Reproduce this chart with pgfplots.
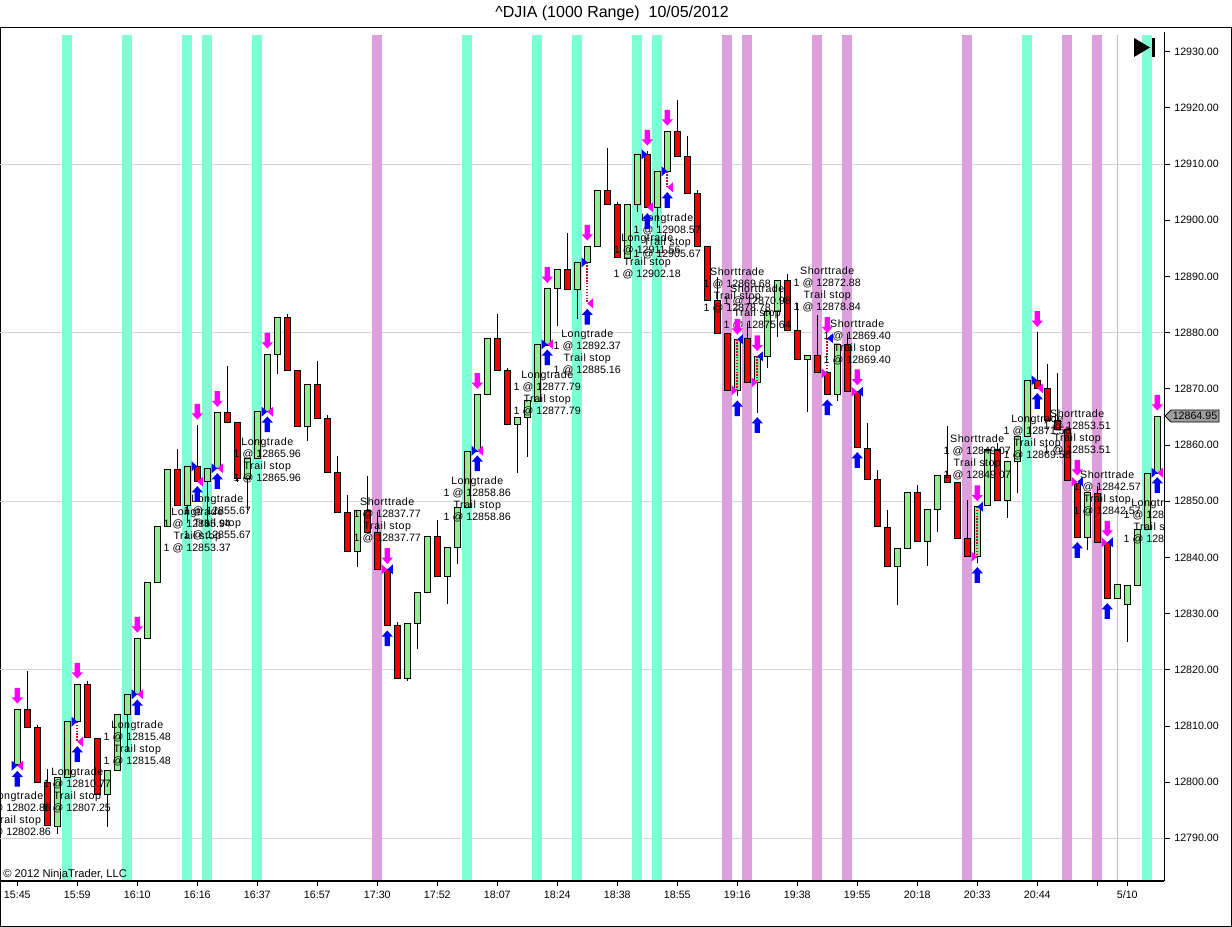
\documentclass[border=0pt]{standalone}
\usepackage{fontspec}
\setmainfont{Liberation Sans}
\newfontfamily\wordfont[LetterSpace=4.5]{Liberation Sans}
\usepackage{pgfplots}
\usepackage{pgfplotstable}
\pgfplotsset{compat=1.18}
\definecolor{upc}{HTML}{90EE90}
\definecolor{dnc}{HTML}{F00000}
\definecolor{aqua}{HTML}{7FFFD4}
\definecolor{plumc}{HTML}{DDA0DD}
\definecolor{magc}{HTML}{FF00FF}
\definecolor{bluec}{HTML}{0000FF}
\definecolor{dotc}{HTML}{C01030}
\pgfdeclareplotmark{arrUp}{\pgfpathmoveto{\pgfpoint{0pt}{5.9pt}}\pgfpathlineto{\pgfpoint{4.2pt}{1.3pt}}\pgfpathlineto{\pgfpoint{2pt}{1.3pt}}\pgfpathlineto{\pgfpoint{2pt}{-5.9pt}}\pgfpathlineto{\pgfpoint{-2pt}{-5.9pt}}\pgfpathlineto{\pgfpoint{-2pt}{1.3pt}}\pgfpathlineto{\pgfpoint{-4.2pt}{1.3pt}}\pgfpathclose\pgfusepathqfill}
\pgfdeclareplotmark{arrDn}{\pgfpathmoveto{\pgfpoint{0pt}{-5.9pt}}\pgfpathlineto{\pgfpoint{4.2pt}{-1.3pt}}\pgfpathlineto{\pgfpoint{2pt}{-1.3pt}}\pgfpathlineto{\pgfpoint{2pt}{5.9pt}}\pgfpathlineto{\pgfpoint{-2pt}{5.9pt}}\pgfpathlineto{\pgfpoint{-2pt}{-1.3pt}}\pgfpathlineto{\pgfpoint{-4.2pt}{-1.3pt}}\pgfpathclose\pgfusepathqfill}
\pgfdeclareplotmark{triR}{\pgfpathmoveto{\pgfpoint{0pt}{0pt}}\pgfpathlineto{\pgfpoint{-4.2pt}{3.7pt}}\pgfpathlineto{\pgfpoint{-4.2pt}{-3.7pt}}\pgfpathclose\pgfusepathqfill}
\pgfdeclareplotmark{triL}{\pgfpathmoveto{\pgfpoint{0pt}{0pt}}\pgfpathlineto{\pgfpoint{4.2pt}{3.7pt}}\pgfpathlineto{\pgfpoint{4.2pt}{-3.7pt}}\pgfpathclose\pgfusepathqfill}
\pgfplotstableread{
x top bot hi lo up
0 12812.96 12803.05 12812.96 12803.05 1
1 12812.96 12809.75 12819.83 12809.75 0
2 12809.75 12799.97 12810.16 12799.97 0
3 12799.97 12792.24 12802.33 12792.24 0
4 12800.86 12792.06 12800.86 12790.77 1
5 12810.82 12800.86 12810.82 12800.86 1
6 12817.41 12810.82 12817.41 12810.82 1
7 12817.41 12807.97 12818.00 12807.97 0
8 12807.73 12797.83 12807.73 12797.83 0
9 12802.03 12797.83 12802.03 12792.06 1
10 12812.07 12802.03 12812.07 12802.03 1
11 12815.63 12812.07 12815.63 12805.41 1
12 12825.59 12815.63 12825.59 12815.63 1
13 12835.56 12825.59 12835.56 12825.59 1
14 12845.46 12835.56 12845.46 12835.56 1
15 12855.67 12845.46 12855.67 12845.46 1
16 12855.67 12849.26 12859.28 12849.26 0
17 12856.20 12849.26 12856.20 12846.17 1
18 12856.20 12853.46 12863.55 12853.46 0
19 12855.85 12853.46 12855.85 12845.46 1
20 12865.81 12855.85 12865.81 12855.85 1
21 12865.81 12864.04 12874.05 12864.04 0
22 12864.04 12854.07 12864.04 12853.46 0
23 12857.63 12854.07 12857.63 12848.43 1
24 12865.99 12857.63 12865.99 12857.63 1
25 12876.14 12865.99 12876.14 12865.99 1
26 12882.72 12876.14 12882.72 12872.63 1
27 12882.72 12873.29 12883.26 12873.29 0
28 12873.29 12863.32 12873.29 12863.32 0
29 12870.80 12863.32 12870.80 12860.76 1
30 12870.80 12864.75 12874.95 12864.75 0
31 12864.75 12855.14 12865.28 12855.14 0
32 12855.14 12848.02 12858.04 12848.02 0
33 12848.02 12841.08 12851.04 12841.08 0
34 12848.37 12841.08 12848.37 12838.34 1
35 12848.37 12844.46 12854.48 12844.46 0
36 12844.46 12837.87 12848.13 12837.87 0
37 12837.87 12827.91 12837.87 12827.91 0
38 12827.91 12818.48 12828.55 12818.48 0
39 12828.26 12818.48 12828.26 12818.05 1
40 12833.78 12828.26 12833.78 12823.69 1
41 12843.75 12833.78 12843.75 12833.78 1
42 12843.75 12836.63 12846.65 12836.63 0
43 12841.79 12836.63 12841.79 12831.70 1
44 12848.91 12841.79 12848.91 12838.82 1
45 12858.87 12848.91 12858.87 12848.91 1
46 12869.02 12858.87 12869.02 12858.87 1
47 12878.99 12869.02 12878.99 12869.02 1
48 12878.99 12873.29 12883.31 12873.29 0
49 12873.29 12863.68 12873.65 12863.68 0
50 12864.93 12863.68 12864.93 12854.96 1
51 12867.88 12864.93 12867.88 12857.81 1
52 12877.92 12867.70 12877.92 12867.70 1
53 12887.88 12877.79 12887.88 12877.79 1
54 12891.27 12887.88 12891.27 12881.23 1
55 12891.27 12887.71 12897.67 12887.71 0
56 12892.51 12887.71 12892.51 12882.42 1
57 12895.36 12892.51 12895.36 12892.51 1
58 12905.32 12895.36 12905.32 12895.36 1
59 12905.32 12902.83 12912.80 12902.83 0
60 12902.83 12893.40 12903.30 12893.40 0
61 12902.83 12893.22 12902.83 12893.22 1
62 12911.73 12902.83 12911.73 12901.52 1
63 12911.73 12902.30 12912.32 12902.30 0
64 12908.71 12902.30 12908.71 12898.61 1
65 12915.82 12908.71 12915.82 12908.71 1
66 12915.82 12911.38 12921.39 12911.38 0
67 12911.38 12904.79 12914.99 12904.79 0
68 12904.79 12895.36 12905.32 12895.36 0
69 12895.36 12885.75 12895.36 12885.75 0
70 12885.75 12879.87 12889.90 12879.87 0
71 12879.87 12869.73 12879.87 12869.73 0
72 12878.81 12869.73 12878.81 12868.72 1
73 12878.99 12871.15 12881.65 12871.15 0
74 12875.78 12871.15 12875.78 12865.74 1
75 12883.79 12875.78 12883.79 12873.65 1
76 12889.31 12883.79 12889.31 12879.27 1
77 12889.31 12880.41 12890.43 12880.41 0
78 12880.41 12875.25 12885.27 12875.25 0
79 12875.96 12875.25 12875.96 12865.92 1
80 12875.96 12872.93 12883.13 12872.93 0
81 12872.93 12869.02 12872.93 12869.02 0
82 12877.92 12869.02 12877.92 12867.88 1
83 12877.92 12869.55 12879.75 12869.55 0
84 12869.55 12859.52 12869.55 12859.52 0
85 12859.41 12853.89 12863.86 12853.89 0
86 12853.89 12845.53 12855.55 12845.53 0
87 12845.35 12838.41 12848.43 12838.41 0
88 12841.61 12838.41 12841.61 12831.57 1
89 12851.58 12841.61 12851.58 12841.61 1
90 12851.58 12842.86 12852.88 12842.86 0
91 12848.55 12842.86 12848.55 12838.51 1
92 12854.60 12848.55 12854.60 12844.57 1
93 12854.60 12853.36 12863.38 12853.36 0
94 12853.36 12843.39 12853.36 12843.39 0
95 12843.39 12840.12 12850.21 12840.12 0
96 12849.01 12840.12 12849.01 12839.05 1
97 12859.10 12849.19 12859.10 12849.19 1
98 12859.10 12850.15 12860.30 12850.15 0
99 12857.09 12850.15 12857.09 12847.06 1
100 12861.54 12857.09 12861.54 12851.40 1
101 12871.51 12861.54 12871.51 12861.54 1
102 12871.51 12870.09 12880.16 12870.09 0
103 12870.09 12864.39 12874.41 12864.39 0
104 12864.39 12862.72 12872.76 12862.72 0
105 12862.72 12853.71 12862.72 12853.71 0
106 12853.18 12843.57 12853.18 12843.57 0
107 12851.58 12843.57 12851.58 12841.31 1
108 12851.40 12842.68 12852.75 12842.68 0
109 12842.68 12832.71 12842.68 12832.71 0
110 12835.20 12832.71 12835.20 12832.71 1
111 12835.03 12831.65 12835.03 12824.99 1
112 12844.99 12835.03 12844.99 12835.03 1
113 12854.96 12844.99 12854.96 12844.99 1
114 12865.10 12854.96 12865.10 12854.96 1
}\candles
\newcommand{\lab}[6]{\node[align=center,font=\fontsize{8}{9}\selectfont,inner sep=0pt] at (axis cs:#1,#2) {{\wordfont #3}\\#4\\{\wordfont #5}\\#6};}
\begin{document}
\begin{tikzpicture}[x=0.75pt,y=-0.75pt]
\useasboundingbox (0,0) rectangle (1232,927);
\draw[black,line width=0.9pt] (0.6,27.6) rectangle (1231.4,926.2);
\node[font=\fontsize{12}{14}\selectfont,inner sep=0pt] at (612,13.5) {\^{}DJIA (1000 Range)\ \ 10/05/2012};
\begin{axis}[
  at={(0pt,-660.75pt)},anchor=south west,scale only axis,
  width=873.2pt,height=636.75pt,
  xmin=-1.73,xmax=114.7,ymin=12782.4,ymax=12933.5,
  axis x line*=bottom,axis y line*=right,
  axis line style={black,line width=0.8pt},
  tick align=outside,major tick length=4pt,
  tick style={black,line width=0.6pt},
  xtick={0,6,12,18,24,30,36,42,48,54,60,66,72,78,84,90,96,102,108,111},
  xticklabels={15:45,15:59,16:10,16:16,16:37,16:57,17:30,17:52,18:07,18:24,18:38,18:55,19:16,19:38,19:55,20:18,20:33,20:44,{},5/10},
  ytick={12790,12800,12810,12820,12830,12840,12850,12860,12870,12880,12890,12900,12910,12920,12930},
  yticklabel style={/pgf/number format/.cd,fixed,fixed zerofill,precision=2,1000 sep={},assume math mode=true},
  tick label style={font=\fontsize{8}{9}\selectfont,text=black},
  extra y ticks={12790,12820,12850,12880,12910},
  extra y tick labels={},
  extra y tick style={ymajorgrids=true,major tick length=0pt},
  grid style={color=black!17,line width=0.75pt},
  scaled y ticks=false,
]
% signal stripes
\addplot[forget plot,no marks,unbounded coords=jump,color=aqua,line width=7.5pt] coordinates {(5,12782.58)(5,12932.96)(5,nan)(11,12782.58)(11,12932.96)(11,nan)(17,12782.58)(17,12932.96)(17,nan)(19,12782.58)(19,12932.96)(19,nan)(24,12782.58)(24,12932.96)(24,nan)(45,12782.58)(45,12932.96)(45,nan)(52,12782.58)(52,12932.96)(52,nan)(56,12782.58)(56,12932.96)(56,nan)(62,12782.58)(62,12932.96)(62,nan)(64,12782.58)(64,12932.96)(64,nan)(101,12782.58)(101,12932.96)(101,nan)(113,12782.58)(113,12932.96)};
\addplot[forget plot,no marks,unbounded coords=jump,color=plumc,line width=7.5pt] coordinates {(36,12782.58)(36,12932.96)(36,nan)(71,12782.58)(71,12932.96)(71,nan)(73,12782.58)(73,12932.96)(73,nan)(80,12782.58)(80,12932.96)(80,nan)(83,12782.58)(83,12932.96)(83,nan)(95,12782.58)(95,12932.96)(95,nan)(105,12782.58)(105,12932.96)(105,nan)(108,12782.58)(108,12932.96)};
\addplot[forget plot,no marks,color=black!25,line width=0.75pt] coordinates {(110,12782.58)(110,12932.96)};
% candles
\pgfplotsforeachungrouped \i in {0,...,114}{%
  \pgfplotstablegetelem{\i}{up}\of\candles
  \ifnum\pgfplotsretval=1 \def\cc{upc}\else\def\cc{dnc}\fi
  \pgfplotstablegetelem{\i}{x}\of\candles \let\vx\pgfplotsretval
  \pgfplotstablegetelem{\i}{top}\of\candles \let\vt\pgfplotsretval
  \pgfplotstablegetelem{\i}{bot}\of\candles \let\vb\pgfplotsretval
  \pgfplotstablegetelem{\i}{hi}\of\candles \let\vh\pgfplotsretval
  \pgfplotstablegetelem{\i}{lo}\of\candles \let\vl\pgfplotsretval
  \pgfmathsetmacro\xa{\vx-0.31}%
  \pgfmathsetmacro\xb{\vx+0.31}%
  \edef\tmp{\noexpand\addplot[forget plot,no marks,draw=black,line width=0.85pt] coordinates {(\vx,\vh)(\vx,\vl)};
    \noexpand\addplot[forget plot,no marks,draw=black,fill=\cc,line width=0.9pt] coordinates {(\xa,\vt)(\xb,\vt)(\xb,\vb)(\xa,\vb)(\xa,\vt)(\xb,\vt)};}%
  \tmp
}
% trail-stop dotted connectors
\addplot[forget plot,no marks,unbounded coords=jump,color=dotc,line width=1.3pt,dash pattern=on 1.2pt off 1pt] coordinates {(6,12810.75)(6,12807.19)(6,nan)(57,12892.51)(57,12885.21)(57,nan)(65,12908.71)(65,12905.86)(65,nan)(72,12878.81)(72,12869.73)(72,nan)(74,12875.78)(74,12871.15)(74,nan)(81,12878.99)(81,12872.76)(81,nan)(96,12849.01)(96,12840.12)};
% execution triangles
\addplot[forget plot,only marks,mark=triR,mark options={fill=bluec,draw=none}] coordinates {(0,12802.92)(6,12810.75)(12,12815.63)(18,12856.2)(20,12855.85)(25,12865.92)(46,12858.98)(53,12877.92)(57,12892.51)(63,12911.73)(65,12908.71)(102,12871.51)(114,12855.07)};
\addplot[forget plot,only marks,mark=triL,mark options={fill=magc,draw=none}] coordinates {(0,12802.92)(6,12807.19)(12,12815.63)(18,12853.46)(20,12855.85)(25,12865.92)(46,12858.98)(53,12877.92)(57,12885.21)(63,12902.3)(65,12905.86)(102,12870.09)(114,12855.07)};
\addplot[forget plot,only marks,mark=triL,mark options={fill=bluec,draw=none}] coordinates {(37,12837.87)(72,12878.81)(74,12875.78)(81,12878.99)(84,12869.48)(96,12849.01)(106,12853.46)(109,12842.68)};
\addplot[forget plot,only marks,mark=triR,mark options={fill=magc,draw=none}] coordinates {(37,12837.87)(72,12869.73)(74,12871.15)(81,12872.76)(84,12869.48)(96,12840.12)(106,12853.46)(109,12842.68)};
% signal arrows
\addplot[forget plot,only marks,mark=arrDn,mark options={fill=magc,draw=none}] coordinates {(0,12815.38)(6,12819.83)(12,12828.01)(18,12865.92)(20,12868.18)(25,12878.56)(37,12840.24)(46,12871.39)(53,12890.25)(57,12897.78)(63,12914.69)(65,12918.24)(72,12881.05)(74,12878.1)(81,12881.35)(84,12872.04)(96,12851.4)(102,12882.42)(106,12855.95)(109,12845.1)(114,12867.52)};
\addplot[forget plot,only marks,mark=arrUp,mark options={fill=bluec,draw=none}] coordinates {(0,12800.61)(6,12805)(12,12813.31)(18,12851.27)(20,12853.59)(25,12863.68)(37,12825.59)(46,12856.74)(53,12875.6)(57,12882.83)(63,12899.86)(65,12903.6)(72,12866.53)(74,12863.55)(81,12866.7)(84,12857.33)(96,12836.86)(102,12867.83)(106,12841.31)(109,12830.45)(114,12852.88)};
% trade labels
\lab{0}{12794.32}{Longtrade}{1 @ 12802.86}{Trail stop}{1 @ 12802.86}
\lab{6}{12798.47}{Longtrade}{1 @ 12810.77}{Trail stop}{1 @ 12807.25}
\lab{12}{12806.87}{Longtrade}{1 @ 12815.48}{Trail stop}{1 @ 12815.48}
\lab{18}{12844.87}{Longtrade}{1 @ 12855.94}{Trail stop}{1 @ 12853.37}
\lab{20}{12847.13}{Longtrade}{1 @ 12855.67}{Trail stop}{1 @ 12855.67}
\lab{25}{12857.27}{Longtrade}{1 @ 12865.96}{Trail stop}{1 @ 12865.96}
\lab{37}{12846.65}{Shorttrade}{1 @ 12837.77}{Trail stop}{1 @ 12837.77}
\lab{46}{12850.3}{Longtrade}{1 @ 12858.86}{Trail stop}{1 @ 12858.86}
\lab{53}{12869.16}{Longtrade}{1 @ 12877.79}{Trail stop}{1 @ 12877.79}
\lab{57}{12876.55}{Longtrade}{1 @ 12892.37}{Trail stop}{1 @ 12885.16}
\lab{63}{12893.63}{Longtrade}{1 @ 12911.56}{Trail stop}{1 @ 12902.18}
\lab{65}{12897.19}{Longtrade}{1 @ 12908.57}{Trail stop}{1 @ 12905.67}
\lab{72}{12887.53}{Shorttrade}{1 @ 12869.68}{Trail stop}{1 @ 12878.78}
\lab{74}{12884.5}{Shorttrade}{1 @ 12870.98}{Trail stop}{1 @ 12875.64}
\lab{81}{12887.76}{Shorttrade}{1 @ 12872.88}{Trail stop}{1 @ 12878.84}
\lab{84}{12878.33}{Shorttrade}{1 @ 12869.40}{Trail stop}{1 @ 12869.40}
\lab{96}{12857.86}{Shorttrade}{1 @ 12849.07}{Trail stop}{1 @ 12849.07}
\lab{102}{12861.42}{Longtrade}{1 @ 12871.56}{Trail stop}{1 @ 12869.58}
\lab{106}{12862.31}{Shorttrade}{1 @ 12853.51}{Trail stop}{1 @ 12853.51}
\lab{109}{12851.45}{Shorttrade}{1 @ 12842.57}{Trail stop}{1 @ 12842.57}
\lab{114}{12846.42}{Longtrade}{1 @ 12855.07}{Trail stop}{1 @ 12855.07}
\end{axis}
\node[anchor=west,font=\fontsize{8.4}{10}\selectfont,inner sep=0pt] at (3,875) {© 2012 NinjaTrader, LLC};
\fill[black] (1134,38) -- (1150,47.5) -- (1134,57) -- cycle;
\fill[black] (1152,38) rectangle (1154.5,57.5);
\draw[black,fill=black!38,line width=0.6pt] (1165,416) -- (1171,410) -- (1219,410) -- (1219,422) -- (1171,422) -- cycle;
\node[font=\fontsize{8}{9}\selectfont,inner sep=0pt] at (1195,416.3) {12864.95};
\end{tikzpicture}
\end{document}
